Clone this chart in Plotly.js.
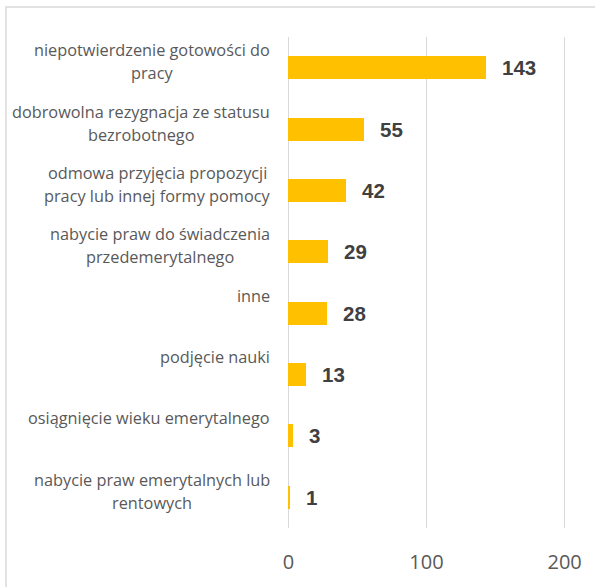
<!DOCTYPE html>
<html>
<head>
<meta charset="utf-8">
<script src="https://cdn.plot.ly/plotly-3.0.1.min.js"></script>
<style>html,body{margin:0;padding:0;background:#fff;}#chart{width:595px;height:587px;}</style>
</head>
<body>
<div id="chart"></div>
<script>
// Data (top to bottom)
var categories = [
  "niepotwierdzenie gotowości do\npracy",
  "dobrowolna rezygnacja ze statusu\nbezrobotnego",
  "odmowa przyjęcia propozycji \npracy lub innej formy pomocy",
  "nabycie praw do świadczenia\nprzedemerytalnego",
  "inne",
  "podjęcie nauki",
  "osiągnięcie wieku emerytalnego",
  "nabycie praw emerytalnych lub\nrentowych"
];
var values = [143, 55, 42, 29, 28, 13, 3, 1];
var xTickVals = [0, 100, 200];
var xTickText = ["0", "100", "200"];

var W = 595, H = 587;
var mL = 287, mR = 29, mT = 37, mB = 59;
var plotW = W - mL - mR, plotH = H - mT - mB;

var labelFont = {family: "Open Sans", size: 16.3, color: "#595959"};
var labelRight = 270;   // px, right edge of label blocks
var firstLineUp = 17.5; // px above category centre
var lineGap = 23;       // px between lines

var ctx = document.createElement("canvas").getContext("2d");
ctx.font = labelFont.size + "px 'Open Sans'";

var annotations = [];
categories.forEach(function (cat, i) {
  var lines = cat.split("\n").map(function (s) { return s.trim(); });
  var maxW = 0;
  lines.forEach(function (l) { maxW = Math.max(maxW, ctx.measureText(l).width); });
  var centerPx = labelRight - maxW / 2;
  lines.forEach(function (l, j) {
    annotations.push({
      xref: "paper", yref: "y", x: 0, y: cat,
      xshift: centerPx - mL, yshift: firstLineUp - lineGap * j,
      xanchor: "center", yanchor: "middle",
      text: l, showarrow: false, font: labelFont
    });
  });
  annotations.push({
    xref: "x", yref: "y", x: values[i], y: cat,
    xanchor: "left", yanchor: "middle", xshift: 14,
    text: "<b>" + values[i] + "</b>", showarrow: false,
    font: {family: "Liberation Sans", size: 20.5, color: "#404040"}
  });
});

var trace = {
  type: "bar", orientation: "h",
  y: categories, x: values,
  width: 0.375,
  marker: {color: "#FFC000"},
  hoverinfo: "none"
};

var layout = {
  width: W, height: H,
  margin: {l: mL, r: mR, t: mT, b: mB, pad: 0},
  paper_bgcolor: "#ffffff", plot_bgcolor: "#ffffff",
  showlegend: false,
  bargap: 0,
  xaxis: {
    range: [-1, 201], tickvals: xTickVals, ticktext: xTickText,
    showgrid: true, gridcolor: "#d9d9d9", gridwidth: 1.5,
    zeroline: true, zerolinecolor: "#d9d9d9", zerolinewidth: 1.5,
    showline: false, ticks: "",
    ticklabelstandoff: 20,
    tickfont: {family: "Open Sans", size: 20, color: "#595959"},
    fixedrange: true
  },
  yaxis: {
    type: "category", autorange: "reversed",
    showticklabels: false, showgrid: false, zeroline: false,
    showline: false, ticks: "", fixedrange: true
  },
  shapes: [{
    type: "rect", xref: "paper", yref: "paper", layer: "below",
    x0: (6 - mL) / plotW, x1: 2,
    y0: -1, y1: (H - mB - 7) / plotH,
    line: {color: "#d9d9d9", width: 1.5}, fillcolor: "rgba(0,0,0,0)"
  }],
  annotations: annotations
};

Plotly.newPlot("chart", [trace], layout, {displayModeBar: false, staticPlot: true});
</script>
</body>
</html>
